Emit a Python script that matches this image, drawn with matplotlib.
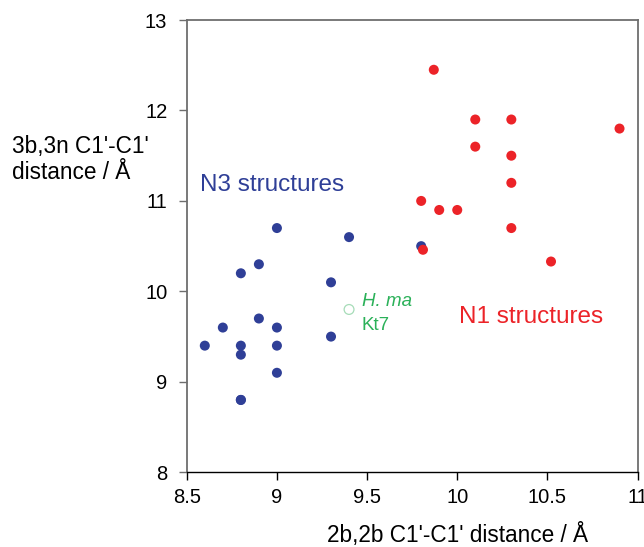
import matplotlib
matplotlib.use('Agg')
import matplotlib.pyplot as plt

plt.rcParams['font.family'] = ['Liberation Sans', 'DejaVu Sans']

# N3 structures (blue)
n3_x = [9.0, 9.4, 8.9, 8.8, 9.3, 8.9, 8.7, 9.0, 8.6, 8.8, 9.0, 8.8, 9.3, 9.0, 8.8, 8.8, 9.8]
n3_y = [10.7, 10.6, 10.3, 10.2, 10.1, 9.7, 9.6, 9.6, 9.4, 9.4, 9.4, 9.3, 9.5, 9.1, 8.8, 8.8, 10.5]

# N1 structures (red)
n1_x = [9.87, 10.1, 10.3, 10.9, 10.1, 10.3, 10.3, 9.8, 9.9, 10.0, 10.3, 9.81, 10.52]
n1_y = [12.45, 11.9, 11.9, 11.8, 11.6, 11.5, 11.2, 11.0, 10.9, 10.9, 10.7, 10.46, 10.33]

# H. ma Kt7
hma_x = [9.4]
hma_y = [9.8]

xticks = [8.5, 9, 9.5, 10, 10.5, 11]
xtick_labels = ['8.5', '9', '9.5', '10', '10.5', '11']
yticks = [8, 9, 10, 11, 12, 13]

blue = '#2f3f97'
red = '#ec2328'
green = '#2bb159'

fig = plt.figure(figsize=(6.44, 5.47), dpi=100)
ax = fig.add_axes([0.290, 0.1366, 0.700, 0.8268])

ax.scatter(n3_x, n3_y, s=52, color=blue, edgecolors='none', zorder=3)
ax.scatter(n1_x, n1_y, s=52, color=red, edgecolors='none', zorder=4)
ax.scatter(hma_x, hma_y, s=50, facecolors='none', edgecolors='#a6dcb8', linewidths=0.9, zorder=3)

ax.set_xlim(8.5, 11)
ax.set_ylim(8, 13)
ax.set_xticks(xticks)
ax.set_xticklabels(xtick_labels)
ax.set_yticks(yticks)

for side in ['top', 'right', 'left']:
  ax.spines[side].set_color('#6e6e6e')
  ax.spines[side].set_linewidth(1.3)
ax.spines['bottom'].set_color('black')
ax.spines['bottom'].set_linewidth(1.0)

ax.tick_params(axis='x', direction='out', length=6, width=1.0, labelsize=14.5, pad=5, color='black')
ax.tick_params(axis='y', direction='out', length=6, width=1.0, labelsize=14.5, pad=8, color='#6e6e6e')

ax.set_xlabel("2b,2b C1'-C1' distance / \u00c5", fontsize=16.3, labelpad=12, x=0.6)
fig.text(12 / 644, 1 - 135 / 547, "3b,3n C1'-C1'\ndistance / \u00c5",
         fontsize=16.3, ha='left', va='top', linespacing=1.15)

ax.text(8.574, 11.18, 'N3 structures', color=blue, fontsize=17.5, ha='left', va='center')
ax.text(10.01, 9.72, 'N1 structures', color=red, fontsize=17.5, ha='left', va='center')
ax.text(9.47, 9.89, 'H. ma', color=green, fontsize=13.5, style='italic', ha='left', va='center')
ax.text(9.47, 9.62, 'Kt7', color=green, fontsize=13.5, ha='left', va='center')

fig.savefig('out.png', dpi=100)
